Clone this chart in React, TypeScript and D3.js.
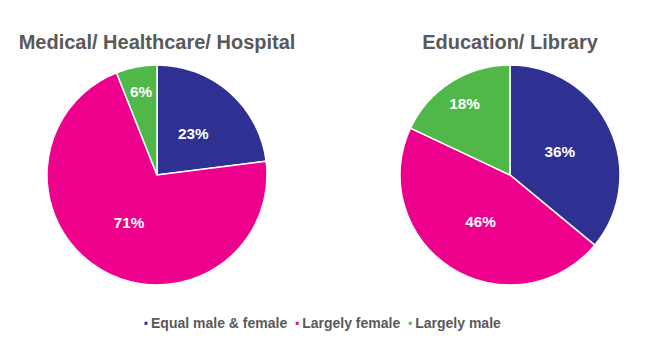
import React from 'react';
import * as d3 from 'd3';

const categories = ['Equal male & female', 'Largely female', 'Largely male'];
const colors = ['#2E3192', '#EC008C', '#50B848'];
const titles = ['Medical/ Healthcare/ Hospital', 'Education/ Library'];
const medicalValues = [23, 71, 6];
const educationValues = [36, 46, 18];

const WIDTH = 665;
const HEIGHT = 362;
const RADIUS = 110;
const FONT = '"Liberation Sans", Arial, sans-serif';

type PieProps = { cx: number; cy: number; title: string; values: number[] };

const Pie = ({ cx, cy, title, values }: PieProps) => {
  const pie = d3.pie<number>().sort(null).value((d) => d);
  const arcs = pie(values);
  const arc = d3.arc<d3.PieArcDatum<number>>().innerRadius(0).outerRadius(RADIUS);
  const total = d3.sum(values);

  return (
    <g transform={`translate(${cx},${cy})`}>
      <text
        x={0}
        y={-126}
        textAnchor="middle"
        style={{ fontFamily: FONT, fontWeight: 'bold', fontSize: 20, fill: '#595959' }}
      >
        {title}
      </text>
      {arcs.map((a, i) => (
        <path key={categories[i]} d={arc(a) || ''} fill={colors[i]} stroke="#fff" strokeWidth={1.5} />
      ))}
      {arcs.map((a, i) => {
        // small slices get their label pushed out toward the rim
        const r = a.value / total < 0.2 ? RADIUS * 0.77 : RADIUS * 0.5;
        const [lx, ly] = d3.arc<d3.PieArcDatum<number>>().innerRadius(r).outerRadius(r).centroid(a);
        return (
          <text
            key={`l${categories[i]}`}
            x={lx}
            y={ly}
            dy="0.36em"
            textAnchor="middle"
            style={{ fontFamily: FONT, fontWeight: 'bold', fontSize: 15.3, fill: '#fff' }}
          >
            {`${a.value}%`}
          </text>
        );
      })}
    </g>
  );
};

const measure = (txt: string, font: string) => {
  const ctx = document.createElement('canvas').getContext('2d');
  if (!ctx) return txt.length * 7;
  ctx.font = font;
  return ctx.measureText(txt).width;
};

const Legend = ({ x, y }: { x: number; y: number }) => {
  const fontSize = 14;
  const widths = categories.map((c) => measure(c, `bold ${fontSize}px "Liberation Sans", Arial, sans-serif`));
  let cursor = 0;
  const items = categories.map((c, i) => {
    const start = cursor;
    cursor += 6.5 + widths[i] + 8.5;
    return { c, i, start };
  });
  return (
    <g transform={`translate(${x},${y})`}>
      {items.map(({ c, i, start }) => (
        <g key={c} transform={`translate(${start},0)`}>
          <rect x={0} y={-6.5} width={3} height={3} fill={colors[i]} />
          <text
            x={6.5}
            y={0}
            style={{ fontFamily: FONT, fontWeight: 'bold', fontSize, fill: '#595959' }}
          >
            {c}
          </text>
        </g>
      ))}
    </g>
  );
};

export default function App() {
  return (
    <div style={{ position: 'absolute', left: 0, top: 0, background: '#fff' }}>
      <svg width={WIDTH} height={HEIGHT} style={{ display: 'block' }}>
        <rect width={WIDTH} height={HEIGHT} fill="#fff" />
        <Pie cx={157} cy={175} title={titles[0]} values={medicalValues} />
        <Pie cx={510} cy={175} title={titles[1]} values={educationValues} />
        <Legend x={144.5} y={328.3} />
      </svg>
    </div>
  );
}
